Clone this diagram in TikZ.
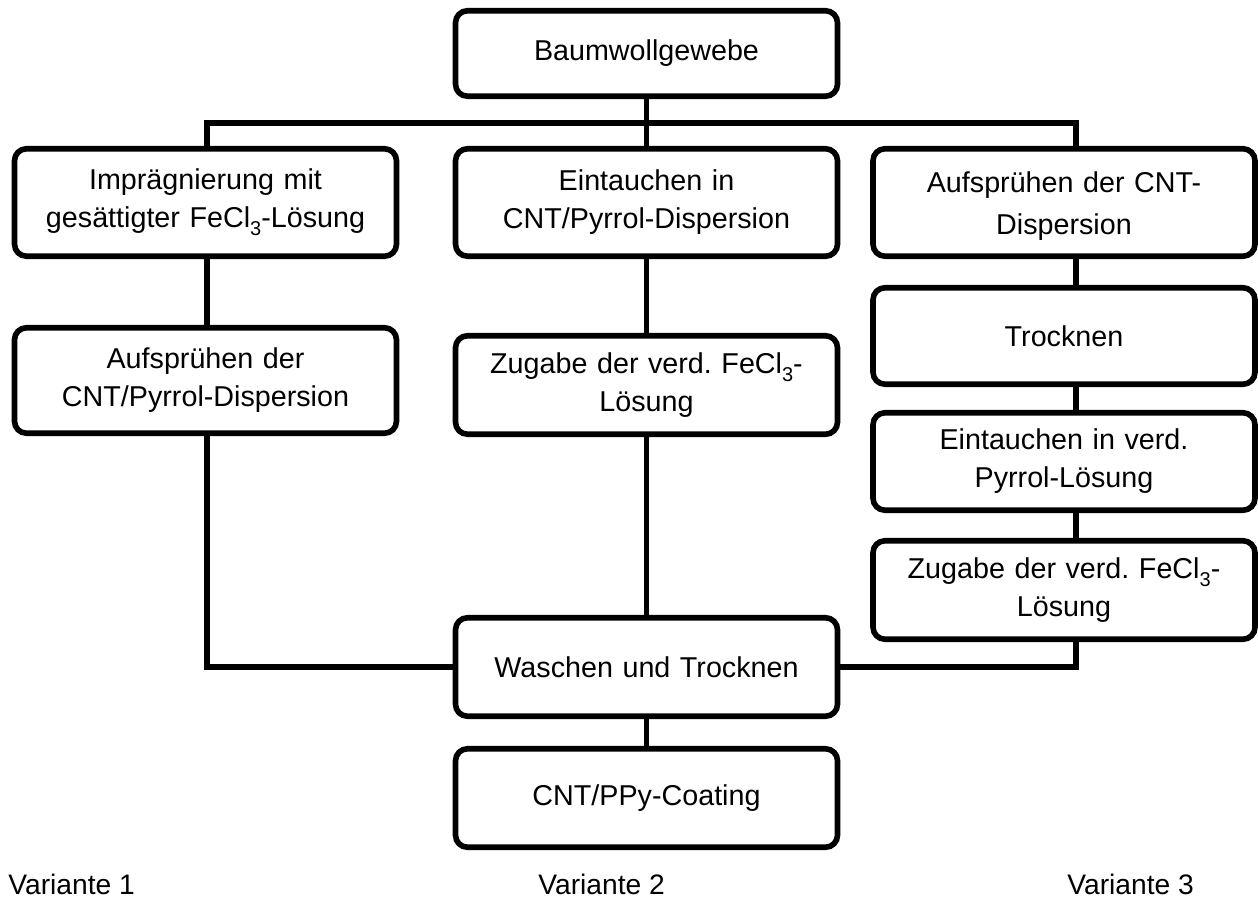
\documentclass[tikz,border=0pt]{standalone}
\usepackage{fontspec}
\setmainfont{Liberation Sans}
\newcommand{\lowsub}[1]{\raisebox{-0.55ex}{\fontsize{10}{10}\selectfont #1}}
\begin{document}
\frenchspacing
\begin{tikzpicture}[x=0.5pt,y=-0.5pt,
  box/.style={draw=black, line width=2.8pt, rounded corners=6pt, fill=white,
    minimum width=191pt, text width=185pt, align=center, inner sep=0pt,
    font=\fontsize{14.35}{19}\selectfont},
  conn/.style={draw=black, line width=2.6pt},
  lab/.style={anchor=west, inner sep=0pt, font=\fontsize{14.1}{17}\selectfont}]
\useasboundingbox (0,0) rectangle (1258,897);
% boxes
\node[box, minimum height=42.75pt] (top) at (646.5,53.5) {Baumwollgewebe};
\node[box, minimum height=53.75pt] (r1l) at (205.5,202.5) {Imprägnierung mit\\gesättigter FeCl\lowsub{3}-Lösung};
\node[box, minimum height=53.75pt] (r1m) at (646.5,202.5) {Eintauchen in\\CNT/Pyrrol-Dispersion};
\node[box, minimum height=53.75pt] (r1r) at (1064,202.5) {\rule{0pt}{14pt}Aufsprühen der CNT-\\[2pt]Dispersion};
\node[box, minimum height=52.75pt] (l2) at (205.5,380.5) {Aufsprühen der\\CNT/Pyrrol-Dispersion};
\node[box, minimum height=49.25pt] (m2) at (646.5,385) {Zugabe der verd. FeCl\lowsub{3}-\\Lösung};
\node[box, minimum height=48.25pt] (tr) at (1064,336) {Trocknen};
\node[box, minimum height=48.75pt] (ei) at (1064,461.5) {Eintauchen in verd.\\Pyrrol-Lösung};
\node[box, minimum height=49.25pt] (zu) at (1064,590) {Zugabe der verd. FeCl\lowsub{3}-\\Lösung};
\node[box, minimum height=49.25pt] (wa) at (646.5,667) {Waschen und Trocknen};
\node[box, minimum height=49.25pt] (co) at (646.5,798) {CNT/PPy-Coating};
% junction coordinates
\coordinate (jm) at (646.5,123);
\coordinate (jl) at (207,123);
\coordinate (jr) at (1076,123);
% connectors
\draw[conn] (top.south) -- (jm);
\draw[conn] (jl |- r1l.north) -- (jl) -- (jr) -- (jr |- r1r.north);
\draw[conn] (jm) -- (r1m.north);
\draw[conn] (jl |- r1l.south) -- (jl |- l2.north);
\draw[conn] (jl |- l2.south) |- (wa.west);
\draw[conn] (r1m.south) -- (m2.north);
\draw[conn] (m2.south) -- (wa.north);
\draw[conn] (jr |- r1r.south) -- (jr |- tr.north);
\draw[conn] (jr |- tr.south) -- (jr |- ei.north);
\draw[conn] (jr |- ei.south) -- (jr |- zu.north);
\draw[conn] (jr |- zu.south) |- (wa.east);
\draw[conn] (wa.south) -- (co.north);
% labels
\node[lab] (v1) at (8,884) {Variante 1};
\node[lab] (v2) at (538,884) {Variante 2};
\node[lab] (v3) at (1067,884) {Variante 3};
\end{tikzpicture}
\end{document}
